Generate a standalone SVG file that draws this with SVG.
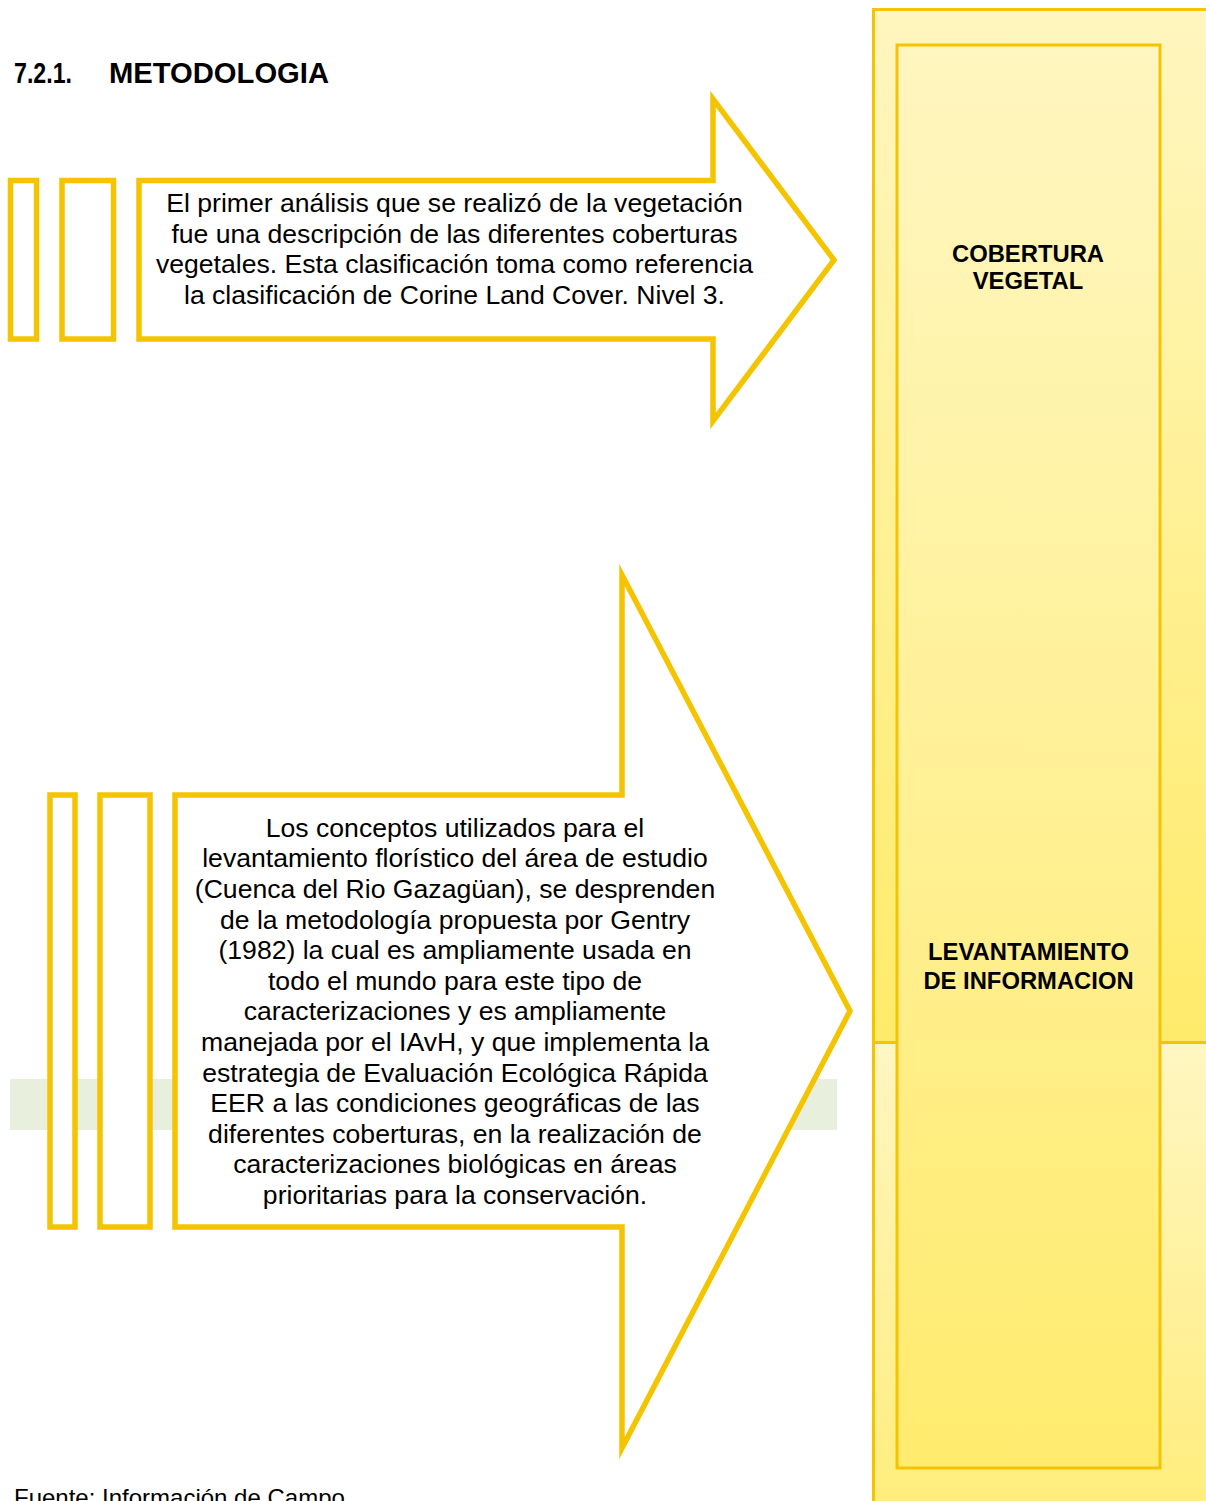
<svg xmlns="http://www.w3.org/2000/svg" width="1206" height="1501" viewBox="0 0 1206 1501">
  <defs>
    <linearGradient id="gUp" x1="0" y1="0" x2="0" y2="1">
      <stop offset="0" stop-color="#FFF6C0"/>
      <stop offset="1" stop-color="#FFEB6A"/>
    </linearGradient>
    <linearGradient id="gLow" x1="0" y1="0" x2="0" y2="1">
      <stop offset="0" stop-color="#FFF6C2"/>
      <stop offset="1" stop-color="#FFEC74"/>
    </linearGradient>
    <linearGradient id="gIn" x1="0" y1="0" x2="0" y2="1">
      <stop offset="0" stop-color="#FFF6C0"/>
      <stop offset="1" stop-color="#FFEB6E"/>
    </linearGradient>
    <style>
      .arrow { fill: #FFFFFF; stroke: #F5C400; stroke-width: 5.5; stroke-linejoin: miter; stroke-miterlimit: 10; }
      .bar { fill: #FFFFFF; stroke: #F5C400; stroke-width: 5.5; }
      .body { font-family: "Liberation Sans", Arial, sans-serif; font-size: 26.6px; fill: #000000; text-anchor: middle; }
      .lbl { font-family: "Liberation Sans", Arial, sans-serif; font-size: 23.8px; font-weight: bold; fill: #000000; text-anchor: middle; }
      .title { font-family: "Liberation Sans", Arial, sans-serif; font-size: 29px; font-weight: bold; fill: #000000; }
      .foot { font-family: "Liberation Sans", Arial, sans-serif; font-size: 24px; fill: #000000; }
    </style>
  </defs>

  <rect x="0" y="0" width="1206" height="1501" fill="#FFFFFF"/>

  <g id="panel">
    <rect x="873.5" y="9.5" width="360" height="1033" fill="url(#gUp)" stroke="#F5C400" stroke-width="3"/>
    <rect x="873.5" y="1042.5" width="360" height="520" fill="url(#gLow)" stroke="#F5C400" stroke-width="3"/>
    <rect x="897" y="45" width="263" height="1423" fill="url(#gIn)" stroke="#F5C400" stroke-width="3"/>
  </g>

  <g id="label-cobertura">
    <text class="lbl" x="1028" y="261.5">COBERTURA</text>
    <text class="lbl" x="1028" y="289.2">VEGETAL</text>
  </g>
  <g id="label-levantamiento">
    <text class="lbl" x="1028.5" y="960">LEVANTAMIENTO</text>
    <text class="lbl" x="1028.5" y="988.5">DE INFORMACION</text>
  </g>

  <g id="title">
    <text class="title" x="14" y="83" textLength="58" lengthAdjust="spacingAndGlyphs">7.2.1.</text>
    <text class="title" x="109" y="83" textLength="220" lengthAdjust="spacingAndGlyphs">METODOLOGIA</text>
  </g>

  <rect id="band" x="10" y="1079" width="827" height="51" fill="#E8F0DD"/>

  <g id="step1">
    <rect class="bar" x="10.5" y="180.5" width="26" height="158.5"/>
    <rect class="bar" x="62" y="180.5" width="51.5" height="158.5"/>
    <path class="arrow" d="M139,180.5 L713,180.5 L713,99 L834,260 L713,421 L713,339 L139,339 Z"/>
    <text class="body" x="454.5" y="212">El primer análisis que se realizó de la vegetación</text>
    <text class="body" x="454.5" y="242.6">fue una descripción de las diferentes coberturas</text>
    <text class="body" x="454.5" y="273.2">vegetales. Esta clasificación toma como referencia</text>
    <text class="body" x="454.5" y="303.8">la clasificación de Corine Land Cover. Nivel 3.</text>
  </g>

  <g id="step2">
    <rect class="bar" x="50" y="795" width="25" height="432"/>
    <rect class="bar" x="100" y="795" width="50" height="432"/>
    <path class="arrow" d="M175,795 L622,795 L622,575 L850,1011 L622,1448 L622,1227 L175,1227 Z"/>
    <text class="body" x="455" y="836.7">Los conceptos utilizados para el</text>
    <text class="body" x="455" y="867.3">levantamiento florístico del área de estudio</text>
    <text class="body" x="455" y="897.9">(Cuenca del Rio Gazagüan), se desprenden</text>
    <text class="body" x="455" y="928.5">de la metodología propuesta por Gentry</text>
    <text class="body" x="455" y="959.1">(1982) la cual es ampliamente usada en</text>
    <text class="body" x="455" y="989.7">todo el mundo para este tipo de</text>
    <text class="body" x="455" y="1020.3">caracterizaciones y es ampliamente</text>
    <text class="body" x="455" y="1050.9">manejada por el IAvH, y que implementa la</text>
    <text class="body" x="455" y="1081.5">estrategia de Evaluación Ecológica Rápida</text>
    <text class="body" x="455" y="1112.1">EER a las condiciones geográficas de las</text>
    <text class="body" x="455" y="1142.7">diferentes coberturas, en la realización de</text>
    <text class="body" x="455" y="1173.3">caracterizaciones biológicas en áreas</text>
    <text class="body" x="455" y="1203.9">prioritarias para la conservación.</text>
  </g>

  <text id="footer" class="foot" x="14" y="1506">Fuente: Información de Campo</text>
</svg>
